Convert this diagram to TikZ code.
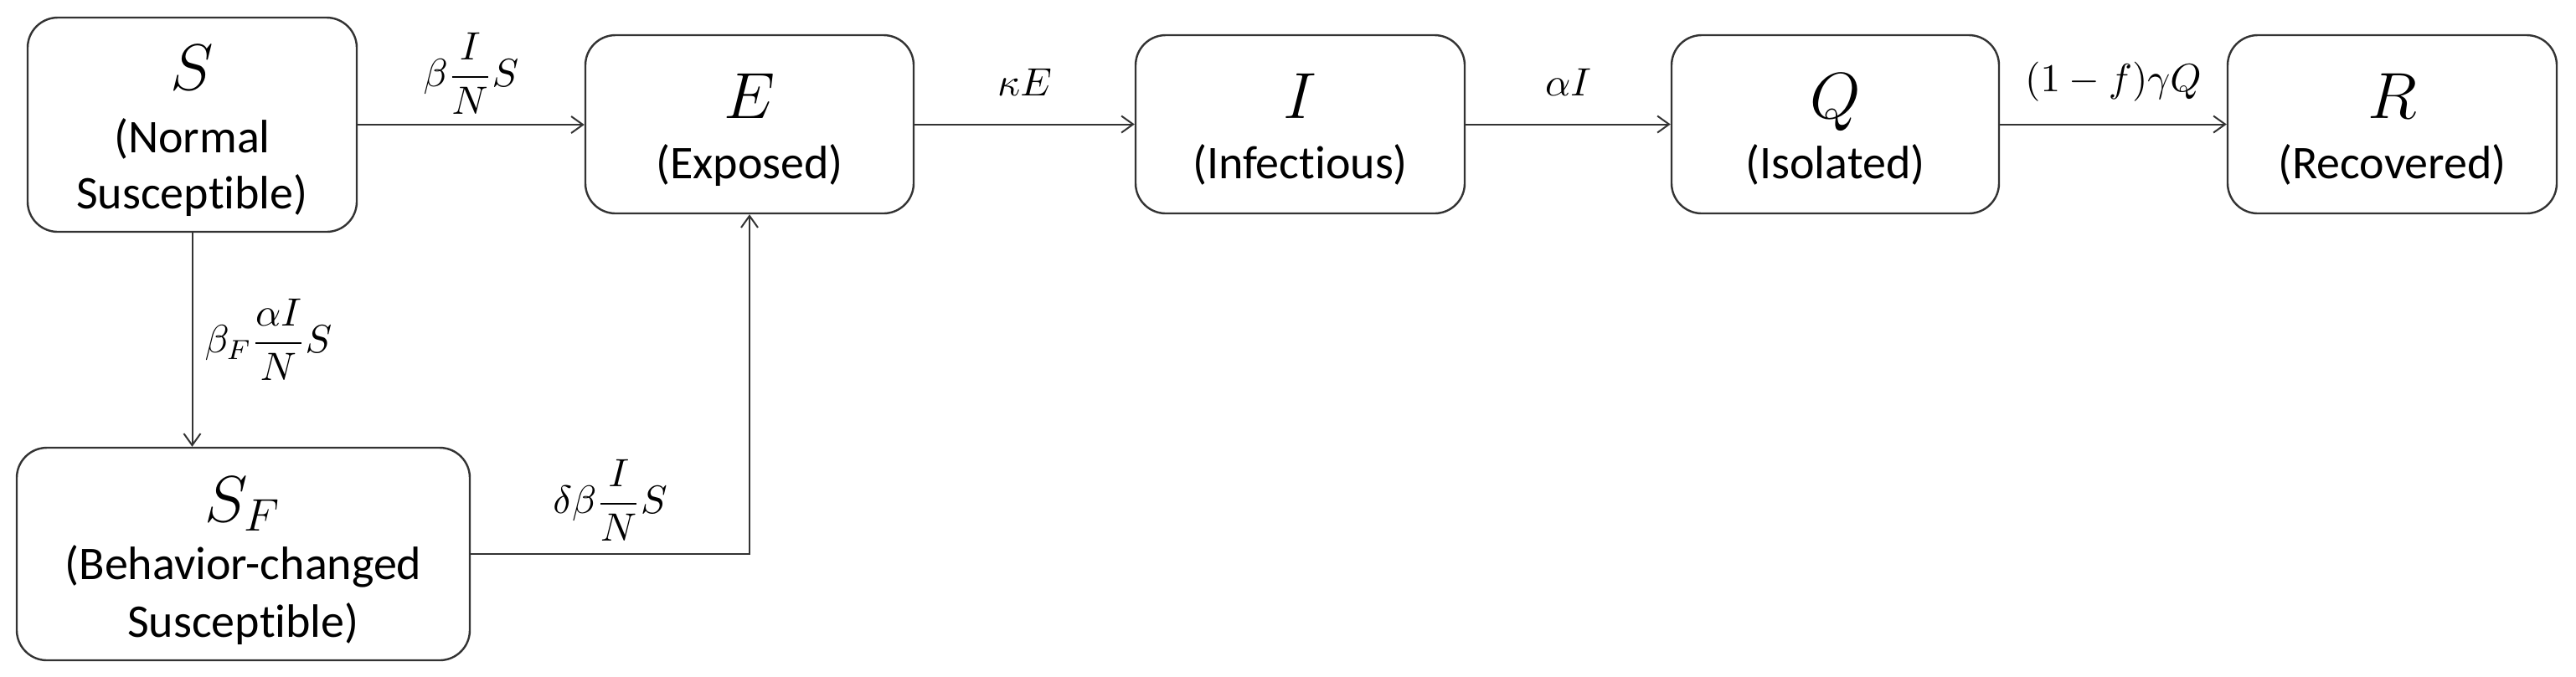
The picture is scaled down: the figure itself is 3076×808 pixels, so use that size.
\RequirePackage{fix-cm}
\documentclass[tikz,border=0pt]{standalone}
\usepackage{amsmath}
\usepackage[no-math]{fontspec}
\setmainfont{Carlito}[Ligatures={NoCommon}]
\usetikzlibrary{arrows.meta,calc}
\begin{document}
\begin{tikzpicture}[x=0.25pt,y=-0.25pt,
  box/.style={draw=black!80, line width=0.6pt, rounded corners=9pt, inner sep=0pt},
  smallbox/.style={box, minimum height=53.25pt, minimum width=98.25pt},
  sym/.style={anchor=base, inner sep=0pt, font=\fontsize{19.5}{23}\selectfont},
  txt/.style={anchor=base, inner sep=0pt, font=\fontsize{14}{17}\selectfont},
  rate/.style={inner sep=0pt, font=\fontsize{11.8}{14}\selectfont},
  flow/.style={draw=black!80, line width=0.5pt, -{Straight Barb[length=3.5pt,width=5pt]}},
]
\useasboundingbox (0,0) rectangle (3076,808);

% boxes
\node[box, minimum width=98.25pt, minimum height=64pt] (S) at (229.5,149) {};
\node[smallbox, minimum width=98pt] (E) at (895,148.5) {};
\node[smallbox] (I) at (1552.5,148.5) {};
\node[smallbox, minimum width=97.75pt] (Q) at (2191.5,148.5) {};
\node[smallbox] (R) at (2856.5,148.5) {};
\node[box, minimum width=135.25pt, minimum height=63.5pt] (SF) at (290.5,662) {};

% box texts
\node[sym] (Ssym) at ($(S.center)+(0,-42)$) {$S$};
\node[txt] (St1) at ($(S.center)+(0,33)$) {(Normal};
\node[txt] (St2) at ($(S.center)+(0,100)$) {Susceptible)};

\node[sym] (Esym) at ($(E.center)+(0,-7)$) {$E$};
\node[txt] (Et) at ($(E.center)+(0,64.5)$) {(Exposed)};

\node[sym] (Isym) at ($(I.center)+(0,-7)$) {$I$};
\node[txt] (It) at ($(I.center)+(0,64.5)$) {(Infectious)};

\node[sym] (Qsym) at ($(Q.center)+(0,-7)$) {$Q$};
\node[txt] (Qt) at ($(Q.center)+(0,64.5)$) {(Isolated)};

\node[sym] (Rsym) at ($(R.center)+(0,-7)$) {$R$};
\node[txt] (Rt) at ($(R.center)+(0,64.5)$) {(Recovered)};

\node[sym] (SFsym) at ($(SF.center)+(0,-39)$) {$S_F$};
\node[txt] (SFt1) at ($(SF.center)+(0,30)$) {(Behavior-changed};
\node[txt] (SFt2) at ($(SF.center)+(0,99)$) {Susceptible)};

% flows
\draw[flow] (S.east) -- node[rate, anchor=south, yshift=3pt] (lSE) {$\beta\dfrac{I}{N}S$} (S.east -| E.west);
\draw[flow] (E.east) -- node[rate, anchor=base, yshift=8.5pt] (lEI) {$\kappa E$} (I.west);
\draw[flow] (I.east) -- node[rate, anchor=base, yshift=8.5pt] (lIQ) {$\alpha I$} (Q.west);
\draw[flow] (Q.east) -- node[rate, anchor=base, yshift=9.75pt] (lQR) {$(1-f)\gamma Q$} (R.west);
\draw[flow] (S.south) -- node[rate, anchor=west, xshift=3.5pt] (lSSF) {$\beta_F\dfrac{\alpha I}{N}S$} (S.south |- SF.north);
\draw[flow] (SF.east) -| node[rate, pos=0.25, anchor=south, yshift=3.75pt] (lSFE) {$\delta\beta\dfrac{I}{N}S$} (E.south);
\end{tikzpicture}
\end{document}
